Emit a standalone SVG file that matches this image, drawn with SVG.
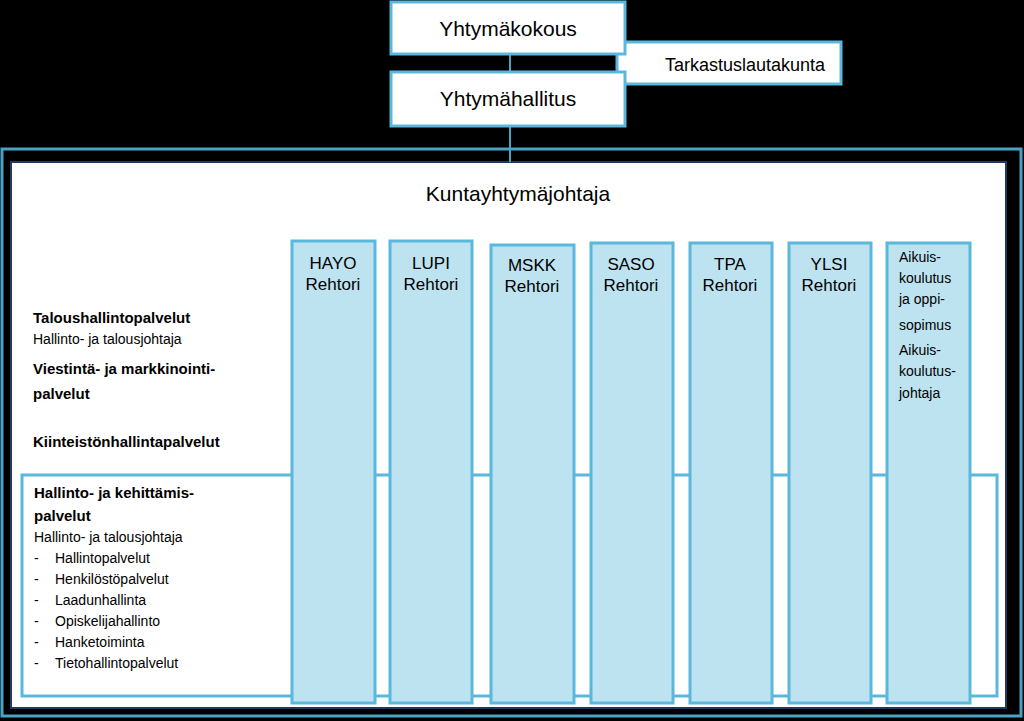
<svg xmlns="http://www.w3.org/2000/svg" width="1024" height="721" viewBox="0 0 1024 721">
<style>
.t{font-family:"Liberation Sans",Arial,sans-serif;fill:#000}
.top{fill:#fff;stroke:#5bb8dd;stroke-width:3}
.col{fill:#bde3f1;stroke:#5bb8dd;stroke-width:3}
.ln{stroke:#4aa3c4;stroke-width:2;fill:none}
.c{font-size:17px;text-anchor:middle}
.s{font-size:14px}
.b{font-size:15px;font-weight:bold}
</style>
<rect width="1024" height="721" fill="#000"/>
<g id="outer"><rect x="2" y="149" width="1019" height="567" fill="#000" stroke="#4aa3c4" stroke-width="3"/>
<rect x="11" y="162" width="995" height="546" fill="#fff" stroke="#1f3864" stroke-width="2"/>
<text class="t" x="518" y="201" font-size="21" text-anchor="middle">Kuntayhtymäjohtaja</text></g>
<g id="connectors"><line class="ln" x1="510" y1="54" x2="510" y2="72"/><line class="ln" x1="510" y1="126" x2="510" y2="162"/></g>
<g id="tarkastus"><rect class="top" x="617" y="42" width="224" height="42"/><text class="t" x="745" y="71" font-size="18" text-anchor="middle">Tarkastuslautakunta</text></g>
<g id="kokous"><rect class="top" x="391" y="2" width="234" height="52"/><text class="t" x="508" y="36" font-size="21" text-anchor="middle">Yhtymäkokous</text></g>
<g id="hallitus"><rect class="top" x="391" y="72" width="234" height="54"/><text class="t" x="508" y="106" font-size="21" text-anchor="middle">Yhtymähallitus</text></g>
<g id="left">
<text class="t b" x="33" y="323">Taloushallintopalvelut</text>
<text class="t s" x="33" y="344">Hallinto- ja talousjohtaja</text>
<text class="t b" x="33" y="374">Viestintä- ja markkinointi-</text>
<text class="t b" x="33" y="399">palvelut</text>
<text class="t b" x="33" y="447">Kiinteistönhallintapalvelut</text>
</g>
<g id="hallinto"><rect x="22" y="475" width="975" height="221" fill="#fff" stroke="#5bb8dd" stroke-width="3"/>
<text class="t b" x="34" y="498">Hallinto- ja kehittämis-</text>
<text class="t b" x="34" y="521">palvelut</text>
<text class="t s" x="34" y="542">Hallinto- ja talousjohtaja</text>
<g class="t s"><text x="34" y="563">-</text><text x="55" y="563">Hallintopalvelut</text>
<text x="34" y="584">-</text><text x="55" y="584">Henkilöstöpalvelut</text>
<text x="34" y="605">-</text><text x="55" y="605">Laadunhallinta</text>
<text x="34" y="626">-</text><text x="55" y="626">Opiskelijahallinto</text>
<text x="34" y="647">-</text><text x="55" y="647">Hanketoiminta</text>
<text x="34" y="668">-</text><text x="55" y="668">Tietohallintopalvelut</text></g></g>
<g id="hayo"><rect class="col" x="292" y="241" width="83" height="462"/><text class="t c" x="333" y="269">HAYO</text><text class="t c" x="333" y="290" font-size="15">Rehtori</text></g>
<g id="lupi"><rect class="col" x="390" y="241" width="82" height="462"/><text class="t c" x="431" y="269">LUPI</text><text class="t c" x="431" y="290" font-size="15">Rehtori</text></g>
<g id="mskk"><rect class="col" x="491" y="245" width="83" height="458"/><text class="t c" x="532" y="271">MSKK</text><text class="t c" x="532" y="292" font-size="15">Rehtori</text></g>
<g id="saso"><rect class="col" x="591" y="243" width="82" height="460"/><text class="t c" x="631" y="270">SASO</text><text class="t c" x="631" y="291" font-size="15">Rehtori</text></g>
<g id="tpa"><rect class="col" x="690" y="243" width="82" height="460"/><text class="t c" x="730" y="270">TPA</text><text class="t c" x="730" y="291" font-size="15">Rehtori</text></g>
<g id="ylsi"><rect class="col" x="789" y="243" width="82" height="460"/><text class="t c" x="829" y="270">YLSI</text><text class="t c" x="829" y="291" font-size="15">Rehtori</text></g>
<g id="aikuis"><rect class="col" x="887" y="243" width="83" height="460"/>
<g class="t" font-size="14"><text x="899" y="262">Aikuis-</text><text x="899" y="283">koulutus</text><text x="899" y="304">ja oppi-</text><text x="899" y="330">sopimus</text><text x="899" y="355">Aikuis-</text><text x="899" y="376">koulutus-</text><text x="899" y="398">johtaja</text></g></g>
</svg>
